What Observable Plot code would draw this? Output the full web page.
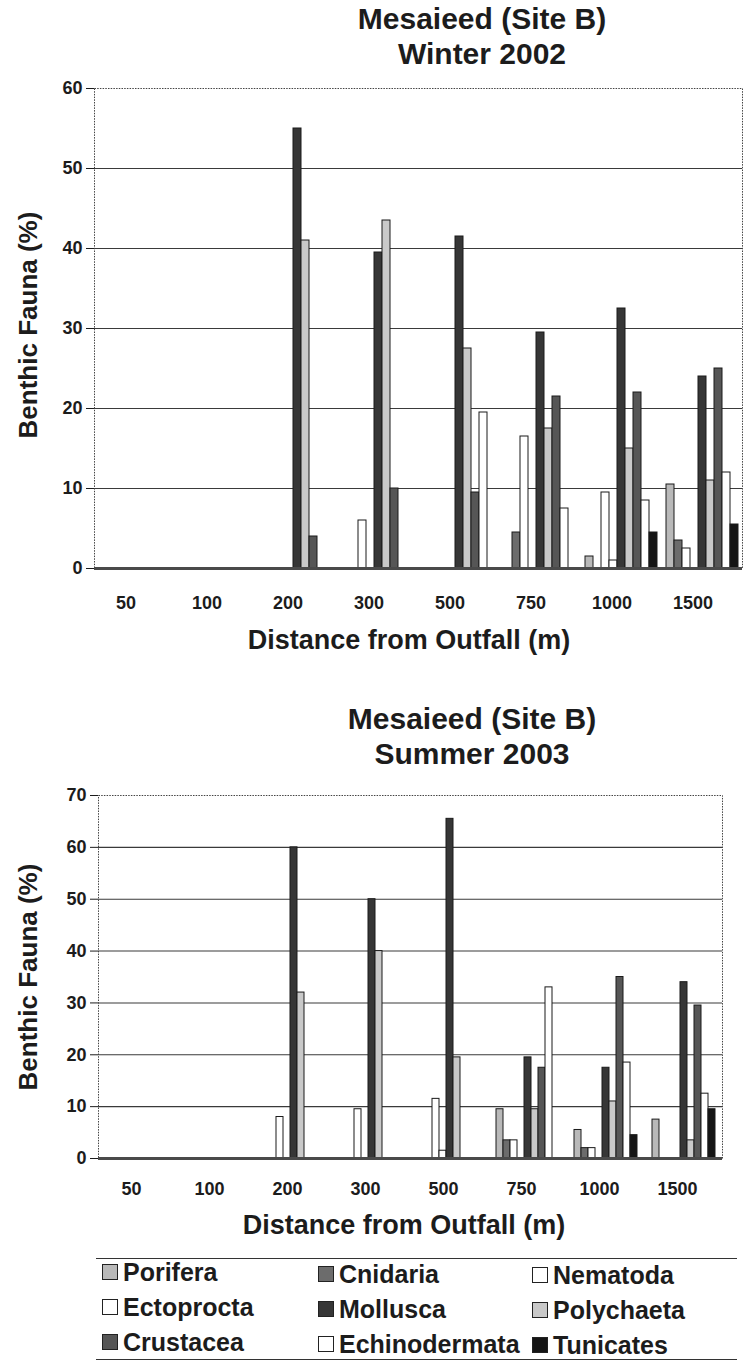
<!DOCTYPE html>
<html>
<head>
<meta charset="utf-8">
<script src="https://cdn.jsdelivr.net/npm/d3@7"></script>
<script src="https://cdn.jsdelivr.net/npm/@observablehq/plot@0.6"></script>
<style>
  body { margin: 0; background: #fff; }
  #page { position: relative; width: 744px; height: 1368px; overflow: hidden;
          font-family: "Liberation Sans", Arial, sans-serif; font-weight: bold; color: #1c1c1c; }
  .title { position: absolute; width: 440px; text-align: center; font-size: 30px; line-height: 35px; }
  .xlab { position: absolute; width: 420px; text-align: center; font-size: 27px; line-height: 30px; }
  .ylab { position: absolute; width: 300px; height: 30px; line-height: 30px; text-align: center;
          font-size: 26px; transform: rotate(-90deg); white-space: nowrap; }
  .chart { position: absolute; left: 0; }
  .legline { position: absolute; left: 96px; width: 641px; border-top: 1.5px solid #333; }
  .leg { position: absolute; display: flex; align-items: center; font-size: 25px; line-height: 28px; white-space: nowrap; }
  .sw { width: 14px; height: 14px; border: 1.5px solid #222; margin-right: 5px; flex: none; }
</style>
</head>
<body>
<div id="page"></div>
<script>
// ---------- data ----------
const taxa = ["Porifera", "Cnidaria", "Nematoda", "Ectoprocta", "Mollusca", "Polychaeta", "Crustacea", "Echinodermata", "Tunicates"];
const distances = ["50", "100", "200", "300", "500", "750", "1000", "1500"];
const taxaColors = ["#b9b9b9", "#6c6c6c", "#ffffff", "#ffffff", "#363636", "#c9c9c9", "#565656", "#ffffff", "#151515"];

// Winter 2002 (values per distance: 50,100,200,300,500,750,1000,1500)
const winterPorifera      = [0, 0, 0,    0,    0,    0,    1.5,  10.5];
const winterCnidaria      = [0, 0, 0,    0,    0,    4.5,  0,    3.5];
const winterNematoda      = [0, 0, 0,    6,    0,    16.5, 9.5,  2.5];
const winterEctoprocta    = [0, 0, 0,    0,    0,    0,    1,    0];
const winterMollusca      = [0, 0, 55,   39.5, 41.5, 29.5, 32.5, 24];
const winterPolychaeta    = [0, 0, 41,   43.5, 27.5, 17.5, 15,   11];
const winterCrustacea     = [0, 0, 4,    10,   9.5,  21.5, 22,   25];
const winterEchinodermata = [0, 0, 0,    0,    19.5, 7.5,  8.5,  12];
const winterTunicates     = [0, 0, 0,    0,    0,    0,    4.5,  5.5];

// Summer 2003
const summerPorifera      = [0, 0, 0,    0,    0,    9.5,  5.5,  7.5];
const summerCnidaria      = [0, 0, 0,    0,    0,    3.5,  2,    0];
const summerNematoda      = [0, 0, 8,    9.5,  11.5, 3.5,  2,    0];
const summerEctoprocta    = [0, 0, 0,    0,    1.5,  0,    0,    0];
const summerMollusca      = [0, 0, 60,   50,   65.5, 19.5, 17.5, 34];
const summerPolychaeta    = [0, 0, 32,   40,   19.5, 9.5,  11,   3.5];
const summerCrustacea     = [0, 0, 0,    0,    0,    17.5, 35,   29.5];
const summerEchinodermata = [0, 0, 0,    0,    0,    33,   18.5, 12.5];
const summerTunicates     = [0, 0, 0,    0,    0,    0,    4.5,  9.5];

const winterSeries = [winterPorifera, winterCnidaria, winterNematoda, winterEctoprocta, winterMollusca,
                      winterPolychaeta, winterCrustacea, winterEchinodermata, winterTunicates];
const summerSeries = [summerPorifera, summerCnidaria, summerNematoda, summerEctoprocta, summerMollusca,
                      summerPolychaeta, summerCrustacea, summerEchinodermata, summerTunicates];

const xTitle = "Distance from Outfall (m)";
const yTitle = "Benthic Fauna (%)";

// ---------- helpers ----------
const page = document.getElementById("page");
function addDiv(cls, html, css) {
  const d = document.createElement("div");
  d.className = cls;
  d.innerHTML = html;
  Object.assign(d.style, css);
  page.appendChild(d);
  return d;
}

function buildRows(series) {
  const rows = [];
  distances.forEach((dist, i) => {
    taxa.forEach((t, j) => {
      rows.push({distance: dist, taxon: t, value: series[j][i]});
    });
  });
  return rows;
}

function makeChart(series, cfg, useSuper) {
  const rows = buildRows(series);
  const ticks = d3.range(0, cfg.yMax + 1, 10);
  const frameOpts = {stroke: "#444", strokeWidth: 1, strokeDasharray: "1.5,1.2"};
  if (useSuper) frameOpts.facet = "super";
  return Plot.plot({
    width: 744,
    height: cfg.height,
    marginTop: cfg.marginTop,
    marginBottom: cfg.marginBottom,
    marginLeft: cfg.marginLeft,
    marginRight: cfg.marginRight,
    style: {fontFamily: "'Liberation Sans', Arial, sans-serif", fontSize: "18px", fontWeight: "bold",
            color: "#1c1c1c", background: "transparent", overflow: "visible"},
    fx: {domain: distances, padding: 0, axis: null, label: null},
    x: {domain: taxa, axis: null, paddingInner: 0, paddingOuter: 0.5},
    y: {domain: [0, cfg.yMax], axis: null, label: null},
    color: {domain: taxa, range: taxaColors},
    marks: [
      Plot.ruleY(d3.range(10, cfg.yMax, 10), {stroke: "#3a3a3a", strokeWidth: 1.1}),
      Plot.frame(frameOpts),
      Plot.barY(rows, {fx: "distance", x: "taxon", y: "value", fill: "taxon",
                       stroke: "#1a1a1a", strokeWidth: 1}),
      Plot.ruleY([0], {stroke: "#4a4a4a", strokeWidth: 3}),
      Plot.axisY({ticks, tickSize: 8, tickPadding: 4, label: null, facetAnchor: "left"}),
      Plot.axisFx({anchor: "bottom", tickSize: 0, tickPadding: cfg.tickPad, dx: cfg.labelDx, label: null})
    ]
  });
}

function placeChart(series, cfg) {
  let svg;
  try { svg = makeChart(series, cfg, true); }
  catch (e) { svg = makeChart(series, cfg, false); }
  const wrap = document.createElement("div");
  wrap.className = "chart";
  wrap.style.top = cfg.top + "px";
  wrap.appendChild(svg);
  page.appendChild(wrap);
}

// ---------- Winter 2002 ----------
addDiv("title", "Mesaieed (Site B)<br>Winter 2002", {left: (482 - 220) + "px", top: "1px"});
placeChart(winterSeries, {top: 70, height: 548, marginTop: 18, marginBottom: 50, marginLeft: 94, marginRight: 2,
                          yMax: 60, tickPad: 28, labelDx: -9});
addDiv("xlab", xTitle, {left: (409 - 210) + "px", top: (640 - 15) + "px"});
addDiv("ylab", yTitle, {left: (28 - 150) + "px", top: (325 - 15) + "px"});

// ---------- Summer 2003 ----------
addDiv("title", "Mesaieed (Site B)<br>Summer 2003", {left: (472 - 220) + "px", top: "701px"});
placeChart(summerSeries, {top: 775, height: 428, marginTop: 20, marginBottom: 45, marginLeft: 98, marginRight: 22,
                          yMax: 70, tickPad: 24, labelDx: -6});
addDiv("xlab", xTitle, {left: (404 - 210) + "px", top: (1225 - 15) + "px"});
addDiv("ylab", yTitle, {left: (28 - 150) + "px", top: (977 - 15) + "px"});

// ---------- Legend ----------
addDiv("legline", "", {top: "1258px"});
addDiv("legline", "", {top: "1359px"});
const legCols = [102, 318, 532];
const legRows = [1272, 1307, 1342];
taxa.forEach((t, i) => {
  const col = i % 3, row = Math.floor(i / 3);
  const d = addDiv("leg", "", {left: legCols[col] + "px", top: (legRows[row] + col * 1.5 - 14) + "px"});
  const sw = document.createElement("span");
  sw.className = "sw";
  sw.style.background = taxaColors[i];
  d.appendChild(sw);
  const tx = document.createElement("span");
  tx.textContent = t;
  d.appendChild(tx);
});
</script>
</body>
</html>
